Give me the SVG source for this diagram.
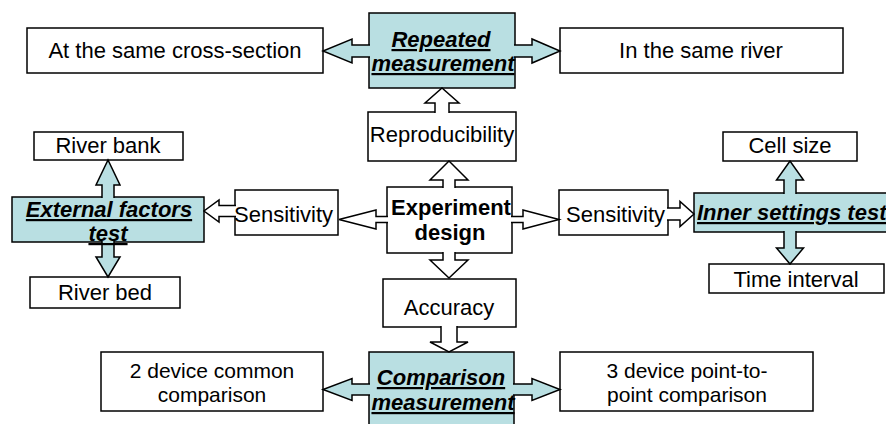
<svg xmlns="http://www.w3.org/2000/svg" width="886" height="424" viewBox="0 0 886 424">
  <style>
    .box { fill: #ffffff; stroke: #000000; stroke-width: 1.5; }
    .hub { fill: #b9dfe2; stroke: #000000; stroke-width: 1.5; }
    .arw { fill: #ffffff; stroke: #000000; stroke-width: 1.5; stroke-linejoin: miter; }
    .arb { fill: #b9dfe2; stroke: #000000; stroke-width: 1.5; stroke-linejoin: miter; }
    text { font-family: "Liberation Sans", Arial, sans-serif; font-size: 22px; fill: #000000; }
    .c { text-anchor: middle; }
    .bi { font-weight: bold; font-style: italic; text-decoration: underline; }
    .b { font-weight: bold; }
    .two { font-size: 21px; }
  </style>

  <!-- boxes -->
  <g id="node-cross-section"><rect class="box" x="27" y="28" width="296" height="45"/></g>
  <g id="node-repeated"><rect class="hub" x="369" y="13" width="146" height="75"/></g>
  <g id="node-same-river"><rect class="box" x="560" y="28" width="283" height="45"/></g>
  <g id="node-reproducibility"><rect class="box" x="368" y="112" width="148" height="49"/></g>
  <g id="node-river-bank"><rect class="box" x="34" y="132" width="149" height="28"/></g>
  <g id="node-external"><rect class="hub" x="12" y="197" width="192" height="45"/></g>
  <g id="node-sensitivity-left"><rect class="box" x="235" y="190" width="103" height="45"/></g>
  <g id="node-experiment"><rect class="box" x="387" y="187" width="125" height="66"/></g>
  <g id="node-sensitivity-right"><rect class="box" x="559" y="190" width="109" height="45"/></g>
  <g id="node-inner"><rect class="hub" x="694" y="193" width="210" height="39"/></g>
  <g id="node-cell-size"><rect class="box" x="723" y="132" width="134" height="29"/></g>
  <g id="node-time-interval"><rect class="box" x="709" y="264" width="175" height="29"/></g>
  <g id="node-river-bed"><rect class="box" x="30" y="277" width="150" height="31"/></g>
  <g id="node-accuracy"><rect class="box" x="383" y="279" width="133" height="48"/></g>
  <g id="node-two-device"><rect class="box" x="101" y="352" width="222" height="59"/></g>
  <g id="node-comparison"><rect class="hub" x="369" y="352" width="145" height="90"/></g>
  <g id="node-three-device"><rect class="box" x="560" y="352" width="253" height="59"/></g>

  <!-- block arrows (open paths: fill covers the joint, stroke skips the base) -->
  <g id="connectors">
    <path class="arb" d="M370,45 L352,45 L352,39 L323,51 L352,63 L352,57 L370,57"/>
    <path class="arb" d="M514,45 L532,45 L532,39 L560,51 L532,63 L532,57 L514,57"/>
    <path class="arb" d="M102,198 L102,185 L96,185 L108,160 L120,185 L114,185 L114,198"/>
    <path class="arb" d="M102,241 L102,257 L96,257 L108,277 L120,257 L114,257 L114,241"/>
    <path class="arb" d="M784,194 L784,180 L776.5,180 L790,161 L803.5,180 L796,180 L796,194"/>
    <path class="arb" d="M784,231 L784,248 L776.5,248 L790,264 L803.5,248 L796,248 L796,231"/>
    <path class="arb" d="M370,384 L352,384 L352,378.5 L323,389.5 L352,400.5 L352,395 L370,395"/>
    <path class="arb" d="M513,384 L532,384 L532,378.5 L560,389.5 L532,400.5 L532,395 L513,395"/>

    <path class="arw" d="M435,113 L435,103 L425,103 L442,88 L459,103 L449,103 L449,113"/>
    <path class="arw" d="M443,188 L443,180 L430,180 L449,161 L468,180 L455,180 L455,188"/>
    <path class="arw" d="M443,252 L443,260 L430,260 L449,278 L468,260 L455,260 L455,252"/>
    <path class="arw" d="M388,216.5 L376,216.5 L376,210 L339,219.5 L376,229 L376,222.5 L388,222.5"/>
    <path class="arw" d="M511,216.5 L523,216.5 L523,210 L559,219.5 L523,229 L523,222.5 L511,222.5"/>
    <path class="arw" d="M441,326 L441,342 L430,342 L449,352 L468,342 L457,342 L457,326"/>
    <path class="arw" d="M236,205.5 L219,205.5 L219,200 L204,211 L219,222 L219,216.5 L236,216.5"/>
    <path class="arw" d="M667,208 L680,208 L680,201.5 L694,214 L680,226.5 L680,220 L667,220"/>
  </g>

  <!-- labels -->
  <g id="labels">
    <text class="c" x="175" y="58">At the same cross-section</text>
    <text class="c bi" x="441" y="47">Repeated</text>
    <text class="c bi" x="443" y="71">measurement</text>
    <text class="c" x="701" y="58">In the same river</text>
    <text class="c" x="442" y="142">Reproducibility</text>
    <text class="c" x="108" y="153">River bank</text>
    <text class="c bi" x="109" y="217">External factors</text>
    <text class="c bi" x="108" y="241">test</text>
    <text x="234" y="222">Sensitivity</text>
    <text class="c b" x="451" y="215">Experiment</text>
    <text class="c b" x="450" y="240">design</text>
    <text x="566" y="222">Sensitivity</text>
    <text class="bi" x="697" y="220">Inner settings test</text>
    <text class="c" x="790" y="153">Cell size</text>
    <text class="c" x="796" y="287">Time interval</text>
    <text class="c" x="105" y="300">River bed</text>
    <text class="c" x="449" y="315">Accuracy</text>
    <text class="c two" x="212" y="378">2 device common</text>
    <text class="c two" x="212" y="401.5">comparison</text>
    <text class="c bi" x="441" y="385">Comparison</text>
    <text class="c bi" x="443" y="410">measurement</text>
    <text class="c two" x="687" y="378">3 device point-to-</text>
    <text class="c two" x="687" y="401.5">point comparison</text>
  </g>
</svg>
